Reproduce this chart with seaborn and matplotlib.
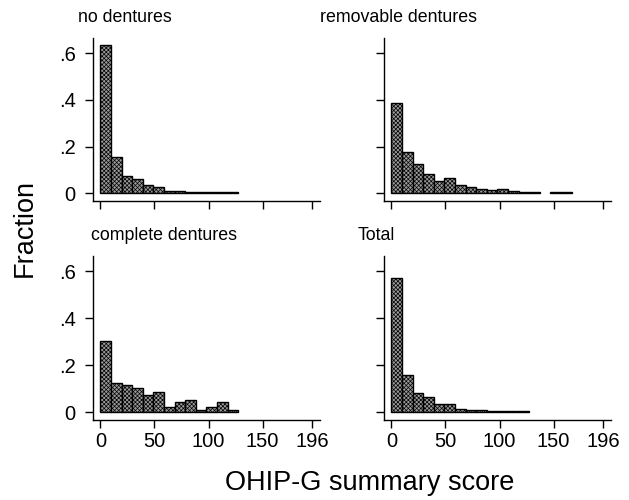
import numpy as np
import pandas as pd
import matplotlib
matplotlib.use("Agg")
import matplotlib.pyplot as plt
import seaborn as sns

# Data: fractions per bin (bin width 9.8 on 0..196 scale)
bin_width = 9.8
no_dentures = [0.636, 0.157, 0.073, 0.060, 0.033, 0.027, 0.011, 0.007, 0.005, 0.005, 0.004, 0.003, 0.003]
removable_dentures = [0.389, 0.176, 0.123, 0.080, 0.050, 0.066, 0.034, 0.026, 0.017, 0.013, 0.017, 0.009,
                      0.003, 0.003, 0.0, 0.003, 0.003]
complete_dentures = [0.303, 0.126, 0.116, 0.104, 0.071, 0.084, 0.021, 0.043, 0.051, 0.010, 0.021, 0.043, 0.010]
total = [0.571, 0.160, 0.080, 0.066, 0.036, 0.036, 0.014, 0.010, 0.010, 0.006, 0.006, 0.004, 0.003]

panel_titles = ["no dentures", "removable dentures", "complete dentures", "Total"]
x_ticks = [0, 50, 100, 150, 196]
x_ticklabels = ["0", "50", "100", "150", "196"]
y_ticks = [0, 0.2, 0.4, 0.6]
y_ticklabels = ["0", ".2", ".4", ".6"]
x_label = "OHIP-G summary score"
y_label = "Fraction"

sns.set_style("white")
plt.rcParams["font.family"] = ["Liberation Sans", "DejaVu Sans"]
plt.rcParams["text.color"] = "black"
plt.rcParams["xtick.color"] = "black"
plt.rcParams["ytick.color"] = "black"
plt.rcParams["hatch.linewidth"] = 0.5
plt.rcParams["hatch.color"] = "black"

W, H = 629, 500
fig = plt.figure(figsize=(W / 100, H / 100), dpi=100)
fig.patch.set_facecolor("white")

def px_axes(left, top, right, bottom):
    return fig.add_axes([left / W, 1 - bottom / H, (right - left) / W, (bottom - top) / H])

layout = [
    (93, 38, 320, 201),
    (384, 38, 611, 201),
    (93, 256, 320, 420),
    (384, 256, 611, 420),
]
title_pos = [(78, 17), (320, 17), (91, 235), (358, 235)]
series = [no_dentures, removable_dentures, complete_dentures, total]

for i, (vals, box) in enumerate(zip(series, layout)):
    ax = px_axes(*box)
    n = len(vals)
    centers = (np.arange(n) + 0.5) * bin_width
    df = pd.DataFrame({"score": centers, "frac": vals})
    sns.histplot(data=df, x="score", weights="frac", binwidth=bin_width,
                 binrange=(0, n * bin_width), stat="count",
                 ax=ax, facecolor="#9a9a9a", edgecolor="black", linewidth=1.0,
                 hatch="xxxxxxxx", alpha=1.0)
    for p in list(ax.patches):
        if p.get_height() <= 0:
            p.remove()
    ax.set_xlim(-6.8, 203)
    ax.set_ylim(-0.034, 0.666)
    ax.set_xlabel("")
    ax.set_ylabel("")
    for s in ["top", "right"]:
        ax.spines[s].set_visible(False)
    for s in ["left", "bottom"]:
        ax.spines[s].set_linewidth(1.0)
        ax.spines[s].set_color("black")
    ax.set_xticks(x_ticks)
    ax.set_yticks(y_ticks)
    ax.tick_params(axis="both", direction="out", length=5.5, width=1.0, color="black",
                   labelcolor="black", labelsize=14.5, left=True, bottom=True)
    ax.tick_params(axis="y", pad=7)
    ax.tick_params(axis="x", pad=3)
    if i in (2, 3):
        ax.set_xticklabels(x_ticklabels)
    else:
        ax.set_xticklabels([])
    if i in (0, 2):
        ax.set_yticklabels(y_ticklabels)
    else:
        ax.set_yticklabels([])
    ax.grid(False)
    tx, ty = title_pos[i]
    fig.text(tx / W, 1 - ty / H, panel_titles[i], ha="left", va="center",
             fontsize=12.8, color="black")

fig.text(25 / W, 1 - 228 / H, y_label, rotation=90, ha="center", va="center",
         fontsize=19.5, color="black")
fig.text(370 / W, 1 - 483 / H, x_label, ha="center", va="center",
         fontsize=19.5, color="black")

fig.savefig("out.png", dpi=100, facecolor="white")
